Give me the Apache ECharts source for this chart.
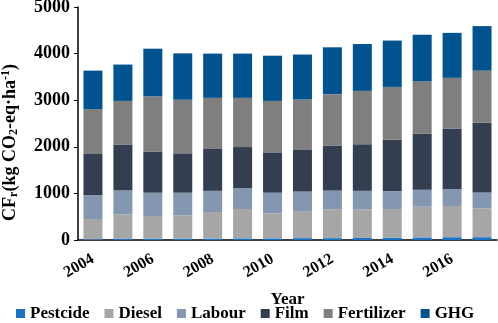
<!DOCTYPE html>
<html>
<head>
<meta charset="utf-8">
<script src="https://cdn.jsdelivr.net/npm/echarts@6/dist/echarts.min.js"></script>
<style>
  html, body { margin: 0; padding: 0; background: #fff; }
  #chart { width: 498px; height: 323px; }
</style>
</head>
<body>
<div id="chart"></div>
<script>
const years = ['2004', '2005', '2006', '2007', '2008', '2009', '2010', '2011', '2012', '2013', '2014', '2015', '2016', '2017'];
const pestcide = [15, 25, 30, 30, 30, 35, 35, 40, 40, 45, 50, 55, 60, 60];
const diesel = [435, 525, 485, 500, 570, 630, 535, 580, 615, 610, 615, 660, 670, 620];
const labour = [515, 515, 500, 485, 455, 445, 445, 420, 405, 400, 385, 365, 365, 340];
const film = [880, 985, 885, 845, 900, 885, 865, 905, 965, 1000, 1100, 1205, 1300, 1495];
const fertilizer = [965, 935, 1185, 1150, 1095, 1055, 1105, 1070, 1105, 1145, 1135, 1120, 1085, 1120];
const ghg = [825, 780, 1020, 995, 950, 950, 970, 965, 1005, 1005, 995, 1000, 965, 955];

const font = 'Liberation Serif';
const chart = echarts.init(document.getElementById('chart'));

function bar(name, data, color) {
  return {
    name: name,
    type: 'bar',
    stack: 'total',
    barWidth: 19,
    itemStyle: { color: color },
    data: data
  };
}

const option = {
  animation: false,
  textStyle: { fontFamily: font },
  grid: { left: 78, right: 1, top: 7, bottom: 83, outerBoundsMode: 'none' },
  legend: {
    bottom: 1,
    left: 16,
    icon: 'rect',
    itemWidth: 9,
    itemHeight: 9,
    itemGap: 15,
    padding: 0,
    textStyle: { fontFamily: font, fontWeight: 'bold', fontSize: 17, color: '#000' },
    data: ['Pestcide', 'Diesel', 'Labour', 'Film', 'Fertilizer', 'GHG']
  },
  xAxis: {
    type: 'category',
    data: years,
    name: 'Year',
    nameLocation: 'middle',
    nameGap: 51,
    nameTextStyle: { fontFamily: font, fontWeight: 'bold', fontSize: 17, color: '#000' },
    axisLine: { lineStyle: { color: '#000', width: 1.5 } },
    axisTick: { show: false },
    axisLabel: {
      interval: 1,
      rotate: 30,
      margin: 18,
      align: 'right',
      verticalAlign: 'middle',
      fontFamily: font,
      fontWeight: 'bold',
      fontSize: 16,
      color: '#000'
    }
  },
  yAxis: {
    type: 'value',
    min: 0,
    max: 5000,
    interval: 1000,
    name: '{b|CF}{sub|r}{b|(kg CO}{sub|2}{b|-eq·ha}{sup|-1}{b|)}',
    nameLocation: 'middle',
    nameRotate: 90,
    nameGap: 58,
    nameTextStyle: {
      padding: [0, 38, 0, 0],
      rich: {
        b: { fontFamily: font, fontWeight: 'bold', fontSize: 18, color: '#000' },
        sub: { fontFamily: font, fontWeight: 'bold', fontSize: 12, color: '#000', verticalAlign: 'bottom', padding: [8, 0, 0, 0] },
        sup: { fontFamily: font, fontWeight: 'bold', fontSize: 12, color: '#000', verticalAlign: 'top', padding: [0, 0, 8, 0] }
      }
    },
    axisLine: { show: true, lineStyle: { color: '#000', width: 1.5 } },
    axisTick: { show: true, length: 4, lineStyle: { color: '#000' } },
    splitLine: { show: false },
    axisLabel: {
      margin: 8,
      formatter: function (v) { return String(v); },
      fontFamily: font,
      fontWeight: 'bold',
      fontSize: 18,
      color: '#000'
    }
  },
  series: [
    bar('Pestcide', pestcide, '#1a74c6'),
    bar('Diesel', diesel, '#a6a6a6'),
    bar('Labour', labour, '#8497b0'),
    bar('Film', film, '#333f50'),
    bar('Fertilizer', fertilizer, '#7f7f7f'),
    bar('GHG', ghg, '#01538f')
  ]
};

chart.setOption(option);
</script>
</body>
</html>
